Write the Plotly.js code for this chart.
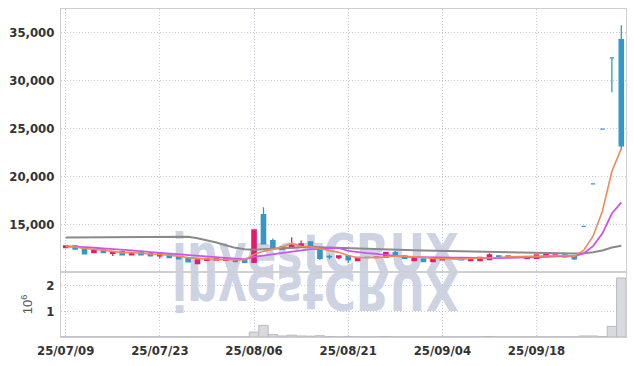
<!DOCTYPE html>
<html><head><meta charset="utf-8">
<script src="https://cdn.plot.ly/plotly-3.0.1.min.js"></script>
<style>html,body{margin:0;padding:0;background:#fff}</style>
</head><body><div id="chart" style="width:634px;height:366px"></div>
<script>
const dates = ['25/07/09','25/07/10','25/07/11','25/07/14','25/07/15','25/07/16','25/07/17','25/07/18','25/07/21','25/07/22',
'25/07/23','25/07/24','25/07/25','25/07/28','25/07/29','25/07/30','25/07/31','25/08/01','25/08/04','25/08/05',
'25/08/06','25/08/07','25/08/08','25/08/11','25/08/12','25/08/13','25/08/14','25/08/18','25/08/19','25/08/20',
'25/08/21','25/08/22','25/08/25','25/08/26','25/08/27','25/08/28','25/08/29','25/09/01','25/09/02','25/09/03',
'25/09/04','25/09/05','25/09/08','25/09/09','25/09/10','25/09/11','25/09/12','25/09/15','25/09/16','25/09/17',
'25/09/18','25/09/19','25/09/22','25/09/23','25/09/24','25/09/25','25/09/26','25/09/29','25/09/30','25/10/01'];
const openP = [12560,12730,12490,12030,12310,11960,12140,11790,12030,11930,
11690,11790,11610,11510,10880,11230,11260,11230,11260,11260,
11020,16000,13290,12660,12560,12730,13150,12490,11640,11510,
11680,11200,11530,11530,11540,12030,11680,11200,11370,11090,
11270,11460,11440,11200,11200,11300,11680,11680,11560,11400,
11440,11610,11650,11790,11680,14780,19210,24950,32400,34300];
const highP = [12740,12750,12500,12350,12320,12180,12160,12040,12050,11950,
11920,11800,11620,11520,11280,11450,11380,11380,11270,11270,
14420,16780,13500,12680,13640,13290,13200,12500,11800,11700,
11720,11580,11600,11600,12070,12200,11700,11450,11380,11450,
11520,11520,11450,11450,11550,11960,11780,11700,11620,11550,
11800,11830,11800,11800,11690,14780,19210,24950,32400,35800];
const lowP = [12540,12380,11880,12000,11990,11680,11780,11770,11780,11680,
11440,11500,11360,11040,10870,11220,11250,11160,11080,11010,
11000,12900,12480,12370,12540,12660,12650,11270,11350,11330,
10950,11190,11450,11480,11530,11690,11430,11190,11080,11080,
11260,11380,11260,11190,11190,11290,11570,11600,11540,11390,
11430,11600,11640,11570,11270,14780,19210,24950,28800,22800];
const closeP = [12730,12400,11900,12310,12040,12140,11790,12030,11790,11690,
11900,11510,11370,11060,11270,11440,11370,11370,11090,11020,
14400,12940,12490,12380,12770,12940,12660,11440,11580,11680,
11270,11540,11510,11550,12060,11700,11440,11440,11090,11440,
11510,11440,11270,11440,11540,11790,11580,11650,11600,11510,
11790,11820,11790,11580,11370,14780,19210,24950,32400,23200];
const volumeM = [0.01,0.01,0.01,0.01,0.01,0.01,0.01,0.01,0.01,0.01,
0.01,0.01,0.01,0.01,0.01,0.01,0.01,0.01,0.01,0.01,
0.19,0.45,0.10,0.04,0.07,0.04,0.03,0.05,0.02,0.01,
0.02,0.01,0.01,0.01,0.02,0.01,0.01,0.01,0.01,0.01,
0.01,0.01,0.01,0.01,0.01,0.02,0.01,0.01,0.01,0.01,
0.01,0.01,0.01,0.01,0.01,0.04,0.04,0.02,0.41,2.27];
const ma60 = [13600,13610,13620,13630,13640,13650,13660,13670,13680,13690,
13710,13740,13760,13700,13540,13350,13080,12800,12530,12390,
12320,12380,12440,12480,12540,12600,12640,12600,12560,12530,
12500,12470,12420,12390,12360,12320,12300,12280,12260,12240,
12220,12190,12150,12120,12100,12080,12040,12020,12000,11970,
11960,11950,11940,11930,11930,11960,12070,12260,12560,12760];
const priorCloses = [12760,12740,12720,12700,12690,12680,12670,12660,12650];
const tickDates = ['25/07/09','25/07/23','25/08/06','25/08/21','25/09/04','25/09/18'];
const priceTicks = [15000,20000,25000,30000,35000];
const volTicks = [1,2];

const RED = '#e31c6b', BLUE = '#3597c9';
const allCloses = priorCloses.concat(closeP);
function movingAverage(n) {
  return closeP.map((_, i) => {
    const end = i + priorCloses.length;
    let s = 0;
    for (let k = end - n + 1; k <= end; k++) s += allCloses[k];
    return s / n;
  });
}
const ma5 = movingAverage(5), ma10 = movingAverage(10);
const isUp = closeP.map((c, i) => c > openP[i]);
const pick = (arr, want) => arr.map((v, i) => isUp[i] === want ? v : null);

function candle(want, color) {
  return {type:'candlestick', x:dates, open:pick(openP,want), high:pick(highP,want), low:pick(lowP,want), close:pick(closeP,want),
    xaxis:'x', yaxis:'y', whiskerwidth:0,
    increasing:{line:{color:color,width:1.3}, fillcolor:color},
    decreasing:{line:{color:color,width:1.3}, fillcolor:color}, hoverinfo:'skip'};
}
const lineTrace = (y, color, w) => ({type:'scatter', mode:'lines', x:dates, y:y, xaxis:'x', yaxis:'y',
  line:{color:color, width:w}, hoverinfo:'skip'});

const traces = [
  {type:'bar', x:dates, y:volumeM, xaxis:'x2', yaxis:'y2', marker:{color:'#d9d9e0', line:{color:'#b9b9c2', width:1}}, hoverinfo:'skip'},
  candle(true, RED), candle(false, BLUE),
  lineTrace(ma60, '#8a8a8a', 2),
  lineTrace(ma10, '#cc55e8', 1.8),
  lineTrace(ma5, '#ef8a5a', 1.6)
];

const wmText = (extra) => `<text x="111" y="263" font-family="DejaVu Sans, sans-serif" font-weight="bold" font-size="54" textLength="287" lengthAdjust="spacingAndGlyphs" fill="#cdd3e3" ${extra}>investCRUX</text>`;
const svg = `<svg xmlns="http://www.w3.org/2000/svg" width="565" height="328" viewBox="0 0 565 328">` +
  wmText('') + wmText('transform="matrix(1 0 0 -1 0 526)"') + `</svg>`;

const tickFont = {family:'Liberation Sans Narrow, DejaVu Sans Condensed, sans-serif', size:13, color:'#333', weight:'bold'};
const gridStyle = {showgrid:true, gridcolor:'#c3c8da', griddash:'1px,2px', gridwidth:1, zeroline:false,
  showline:true, linecolor:'#cfcfcf', linewidth:1, mirror:true};

const layout = {
  width:634, height:366, margin:{l:61, r:8, t:9, b:29},
  paper_bgcolor:'#fff', plot_bgcolor:'rgba(0,0,0,0)',
  showlegend:false, hovermode:false, bargap:0, boxgap:0.35,
  xaxis: Object.assign({type:'category', domain:[0,1], anchor:'y', range:[-0.5,59.5], tickvals:tickDates,
    showticklabels:false, ticks:'', rangeslider:{visible:false}, fixedrange:true}, gridStyle),
  yaxis: Object.assign({domain:[0.198,1], range:[10000,37500], tickvals:priceTicks, tickformat:',d', ticks:'',
    tickfont:tickFont, ticklabelstandoff:3}, gridStyle),
  xaxis2: Object.assign({type:'category', domain:[0,1], anchor:'y2', range:[-0.5,59.5], tickvals:tickDates, ticks:'',
    tickfont:tickFont, rangeslider:{visible:false}, ticklabelstandoff:1}, gridStyle),
  yaxis2: Object.assign({domain:[0,0.198], range:[0,2.5], tickvals:volTicks, ticks:'', tickfont:tickFont, ticklabelstandoff:3,
    title:{text:'10<sup>6</sup>', font:{family:'Liberation Sans, Arial, sans-serif', size:13, color:'#555'}, standoff:10}}, gridStyle),
  images:[{source:'data:image/svg+xml;charset=utf-8,' + encodeURIComponent(svg), xref:'paper', yref:'paper',
    x:0, y:1, sizex:1, sizey:1, xanchor:'left', yanchor:'top', sizing:'stretch', layer:'below'}]
};
Plotly.newPlot('chart', traces, layout, {displayModeBar:false, staticPlot:true});
</script></body></html>
